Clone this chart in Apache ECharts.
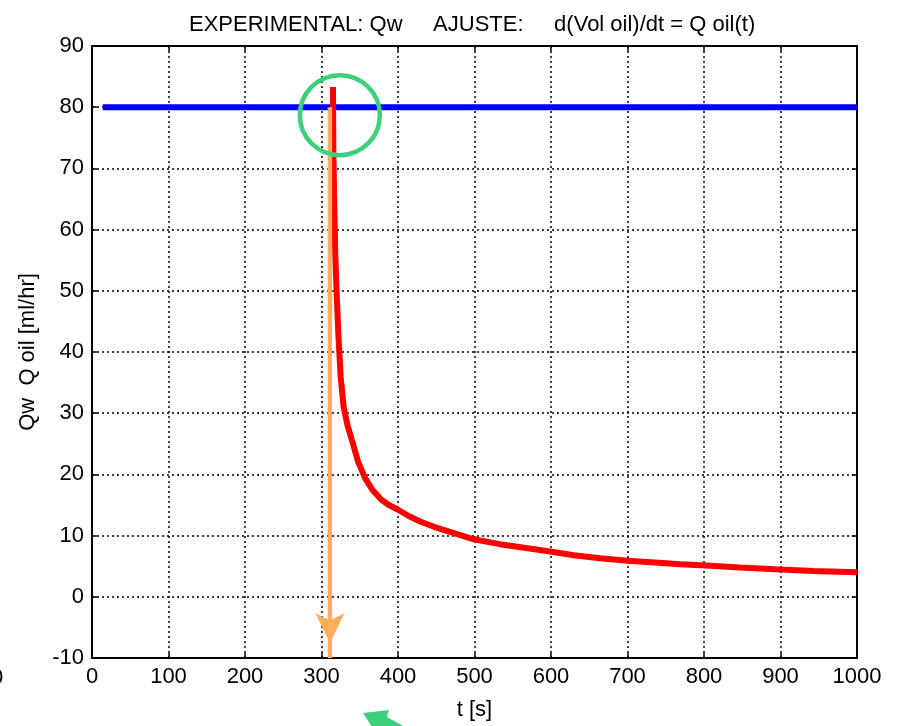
<!DOCTYPE html>
<html>
<head>
<meta charset="utf-8">
<script src="https://cdn.jsdelivr.net/npm/echarts@6/dist/echarts.min.js"></script>
<style>
html,body{margin:0;padding:0;background:#fff;}
#chart{width:897px;height:726px;}
</style>
</head>
<body>
<div id="chart"></div>
<script>
// ---- data ----
var titleText = 'EXPERIMENTAL: Qw     AJUSTE:     d(Vol oil)/dt = Q oil(t)';
var xName = 't [s]';
var yName = 'Qw  Q oil [ml/hr]';
var xMin = 0, xMax = 1000, xStep = 100;
var yMin = -10, yMax = 90, yStep = 10;

// experimental Qw (constant)
var qwT = [14, 1000];
var qwV = [80, 80];

// fitted Q oil(t)
var oilT = [315, 315.5, 317, 318, 320, 322, 325, 329, 334, 340, 348, 357, 367, 378, 388, 399, 414, 429, 448, 468, 499, 533, 565, 599, 630, 664, 700, 736, 769, 803, 847, 893, 943, 1000];
var oilV = [83.3, 73, 62, 56, 49, 43, 36, 31, 28, 25.5, 22, 19.4, 17.4, 15.9, 15.0, 14.3, 13.2, 12.3, 11.4, 10.6, 9.4, 8.6, 8.0, 7.4, 6.8, 6.3, 5.9, 5.6, 5.3, 5.1, 4.8, 4.5, 4.2, 4.0];

// orange arrow (start -> end)
var arrowT = [311, 311];
var arrowV = [80, -10];

// green circle annotation centre
var circleT = [324];
var circleV = [78.7];

// ---- build ----
var FONT = '"Liberation Sans", Arial, sans-serif';
var FS = 22;
function pairs(a, b) { return a.map(function (v, i) { return [v, b[i]]; }); }

var chart = echarts.init(document.getElementById('chart'), null, {renderer: 'canvas'});

var frameLine = {show: true, onZero: false, lineStyle: {color: '#000', width: 2}};
var tick = {show: true, inside: true, length: 5, lineStyle: {color: '#000', width: 1.5}};
var grid = {show: true, lineStyle: {color: '#000', type: [2, 3], width: 1.5}};

var option = {
  backgroundColor: '#fff',
  animation: false,
  title: {
    text: titleText,
    left: 184, top: 9,
    textStyle: {fontFamily: FONT, fontSize: FS, fontWeight: 'normal', color: '#000'}
  },
  grid: {left: 92, right: 40, top: 46, bottom: 67, containLabel: false},
  xAxis: [{
    type: 'value', min: xMin, max: xMax, interval: xStep, position: 'bottom',
    axisLine: frameLine, axisTick: tick, splitLine: grid,
    axisLabel: {fontFamily: FONT, fontSize: FS, color: '#000', margin: 8, formatter: function (v) { return String(v); }},
    name: xName, nameLocation: 'middle', nameGap: 41,
    nameTextStyle: {fontFamily: FONT, fontSize: FS, color: '#000'}
  }, {
    type: 'value', min: xMin, max: xMax, interval: xStep, position: 'top',
    axisLine: frameLine, axisTick: tick, splitLine: {show: false},
    axisLabel: {show: false}
  }],
  yAxis: [{
    type: 'value', min: yMin, max: yMax, interval: yStep, position: 'left',
    axisLine: frameLine, axisTick: tick, splitLine: grid,
    axisLabel: {fontFamily: FONT, fontSize: FS, color: '#000', margin: 8},
    name: yName, nameLocation: 'middle', nameGap: 53, nameRotate: 90,
    nameTextStyle: {fontFamily: FONT, fontSize: FS, color: '#000'}
  }, {
    type: 'value', min: yMin, max: yMax, interval: yStep, position: 'right',
    axisLine: frameLine, axisTick: tick, splitLine: {show: false},
    axisLabel: {show: false}
  }],
  series: [{
    type: 'line', name: 'Qw', data: pairs(qwT, qwV), symbol: 'none',
    lineStyle: {color: '#0000ff', width: 6}, z: 2, silent: true
  }, {
    type: 'line', name: 'Q oil', data: pairs(oilT, oilV), symbol: 'none',
    lineStyle: {color: '#ff0000', width: 6}, z: 3, silent: true
  }, {
    type: 'line', name: 'arrow', clip: false, silent: true,
    data: [
      {value: [arrowT[0], arrowV[0]], symbol: 'none'},
      {value: [arrowT[1], arrowV[1]], symbol: 'arrow', symbolRotate: 180, symbolSize: [22, 30], symbolOffset: [0, -15]}
    ],
    showSymbol: true,
    itemStyle: {color: '#ffad5c'},
    lineStyle: {color: '#ffad5c', width: 4.5}, z: 4
  }, {
    type: 'scatter', name: 'circle', data: pairs(circleT, circleV), symbol: 'circle', symbolSize: 80,
    itemStyle: {color: 'rgba(0,0,0,0)', borderColor: '#3dcf7b', borderWidth: 4.5, opacity: 1},
    z: 5, silent: true, clip: false
  }],
  graphic: [{
    type: 'polygon',
    shape: {points: [[363, 713], [389, 710], [387, 717], [405, 727], [372, 727]]},
    style: {fill: '#3dcf7b'}
  }, {
    type: 'text', left: -9, top: 667,
    style: {text: '0', fontFamily: FONT, fontSize: FS, fill: '#000'}
  }]
};
chart.setOption(option);
</script>
</body>
</html>
